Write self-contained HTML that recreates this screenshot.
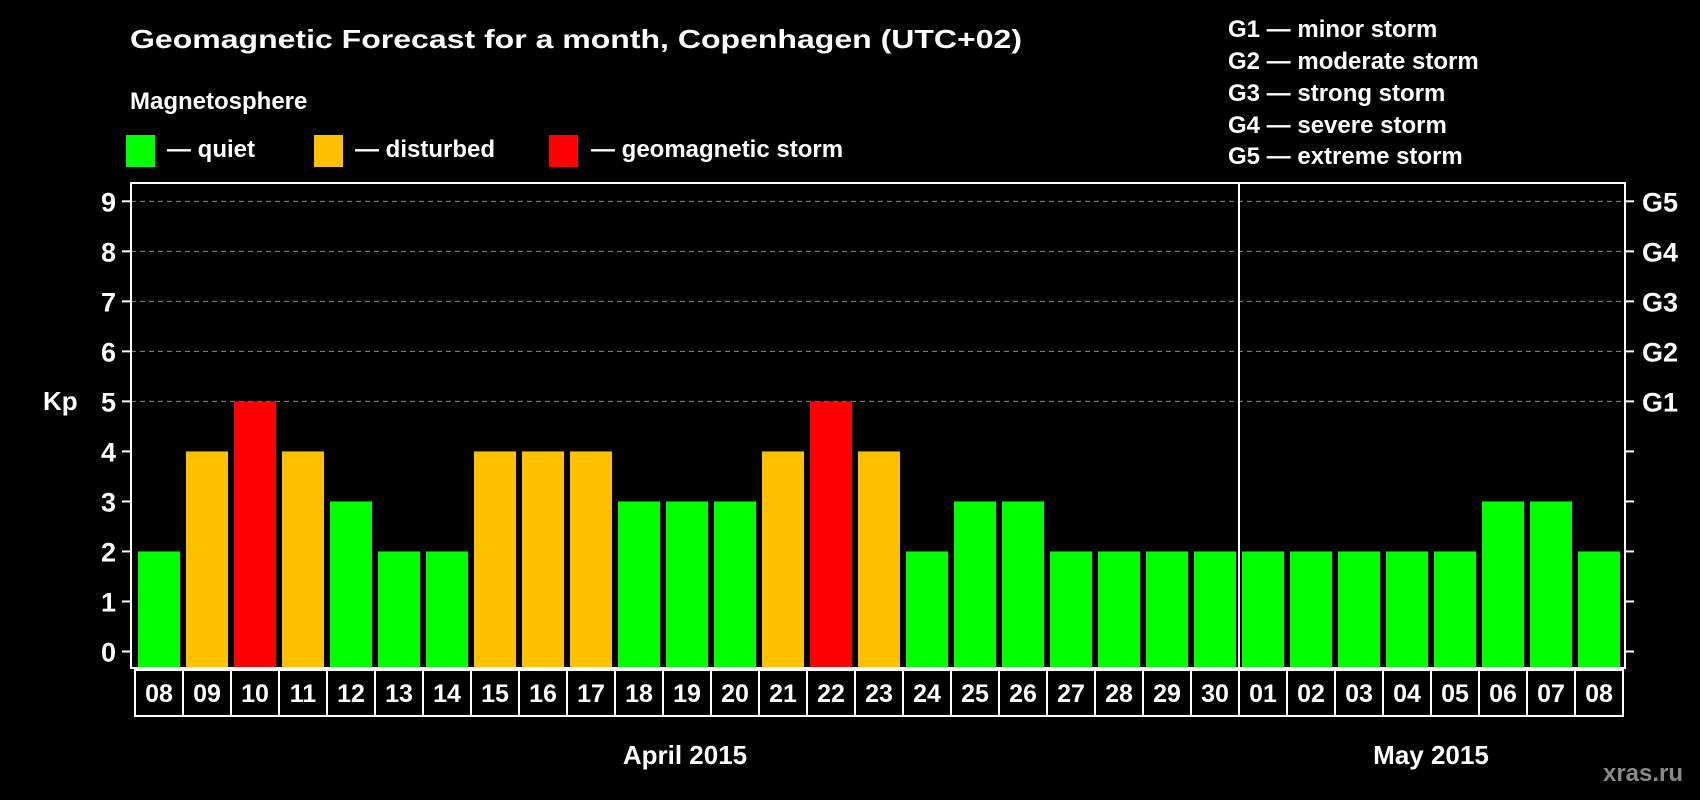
<!DOCTYPE html>
<html><head><meta charset="utf-8">
<style>
html,body{margin:0;padding:0;background:#000;}
svg{display:block;font-family:"Liberation Sans",Arial,sans-serif;font-weight:bold;}
</style></head>
<body>
<svg id="chart" width="1700" height="800" viewBox="0 0 1700 800">
  <rect x="0" y="0" width="1700" height="800" fill="#000"/>
  <text x="130" y="48" fill="#fff" font-size="26" textLength="892" lengthAdjust="spacingAndGlyphs">Geomagnetic Forecast for a month, Copenhagen (UTC+02)</text>
  <text x="130" y="109" fill="#fff" font-size="24">Magnetosphere</text>
  <g>
    <rect x="126" y="135" width="29" height="32" fill="#00ff00"/>
    <text x="167" y="157" fill="#fff" font-size="24">— quiet</text>
  </g>
  <g>
    <rect x="314" y="135" width="29" height="32" fill="#ffc000"/>
    <text x="355" y="157" fill="#fff" font-size="24">— disturbed</text>
  </g>
  <g>
    <rect x="549" y="135" width="29" height="32" fill="#ff0000"/>
    <text x="591" y="157" fill="#fff" font-size="24">— geomagnetic storm</text>
  </g>
  <g fill="#fff" font-size="24">
    <text x="1228" y="37">G1 — minor storm</text>
    <text x="1228" y="69">G2 — moderate storm</text>
    <text x="1228" y="101">G3 — strong storm</text>
    <text x="1228" y="133">G4 — severe storm</text>
    <text x="1228" y="164">G5 — extreme storm</text>
  </g>
  <text x="43" y="410" fill="#fff" font-size="26">Kp</text>
  <g id="grid"></g>
  <g id="bars"></g>
  <g id="axes"></g>
  <text x="685" y="764" fill="#fff" font-size="26" text-anchor="middle">April 2015</text>
  <text x="1431" y="764" fill="#fff" font-size="26" text-anchor="middle">May 2015</text>
  <text x="1643" y="781" fill="#8a8a8a" font-size="24" text-anchor="middle">xras.ru</text>
</svg>
<script>
const dayLabels = ["08","09","10","11","12","13","14","15","16","17","18","19","20","21","22","23","24","25","26","27","28","29","30","01","02","03","04","05","06","07","08"];
const kpValues = [2,4,5,4,3,2,2,4,4,4,3,3,3,4,5,4,2,3,3,2,2,2,2,2,2,2,2,2,3,3,2];
const yTicks = [0,1,2,3,4,5,6,7,8,9];
const gLabels = ["G1","G2","G3","G4","G5"];
const gLevels = [5,6,7,8,9];
const monthBreakIndex = 23;

const NS = "http://www.w3.org/2000/svg";
const plotL = 131, plotR = 1625, plotT = 183, plotB = 668;
const y0 = 651.5, unit = 50.02;
const barStart = 138, pitch = 48, barW = 42;
function yScale(v){ return y0 - v*unit; }
function xScale(i){ return barStart + i*pitch; }
function mk(tag, attrs, parent){
  const e = document.createElementNS(NS, tag);
  for (const k in attrs) e.setAttribute(k, attrs[k]);
  parent.appendChild(e);
  return e;
}
const grid = document.getElementById('grid');
const bars = document.getElementById('bars');
const axes = document.getElementById('axes');

gLevels.forEach((lv, i) => {
  const y = yScale(lv);
  const l = mk('line', {x1: plotL, x2: plotR, y1: y, y2: y, stroke: '#8c8c8c', 'stroke-width': 1, 'stroke-dasharray': '5,4'}, grid);
  
  
  const t = mk('text', {x: 1642, y: y + 10, fill: '#fff', 'font-size': 27}, axes);
  t.textContent = gLabels[i];
  
  
});

kpValues.forEach((v, i) => {
  const color = v >= 5 ? '#ff0000' : (v >= 4 ? '#ffc000' : '#00ff00');
  const r = mk('rect', {x: xScale(i), y: yScale(v), width: barW, height: plotB - yScale(v), fill: color}, bars);
  
  
});

// frame
const frame = mk('rect', {x: plotL, y: plotT, width: plotR - plotL, height: plotB - plotT, fill: 'none', stroke: '#fff', 'stroke-width': 2}, axes);



const divX = xScale(monthBreakIndex) - 3;
const dv = mk('line', {x1: divX, x2: divX, y1: plotT, y2: plotB, stroke: '#fff', 'stroke-width': 2}, axes);



yTicks.forEach(v => {
  const y = yScale(v);
  const tl = mk('line', {x1: 122, x2: plotL, y1: y, y2: y, stroke: '#fff', 'stroke-width': 2}, axes);
  
  
  const tr = mk('line', {x1: plotR, x2: 1634, y1: y, y2: y, stroke: '#fff', 'stroke-width': 2}, axes);
  
  
  const t = mk('text', {x: 116, y: y + 10, fill: '#fff', 'font-size': 27, 'text-anchor': 'end'}, axes);
  t.textContent = v;
  
  
});

dayLabels.forEach((d, i) => {
  const bx = xScale(i) - 3;
  const b = mk('rect', {x: bx, y: 670, width: pitch, height: 46, fill: 'none', stroke: '#fff', 'stroke-width': 2}, axes);
  
  
  const t = mk('text', {x: bx + pitch/2, y: 702, fill: '#fff', 'font-size': 25, 'text-anchor': 'middle'}, axes);
  t.textContent = d;
  
  
});
</script>
</body></html>
